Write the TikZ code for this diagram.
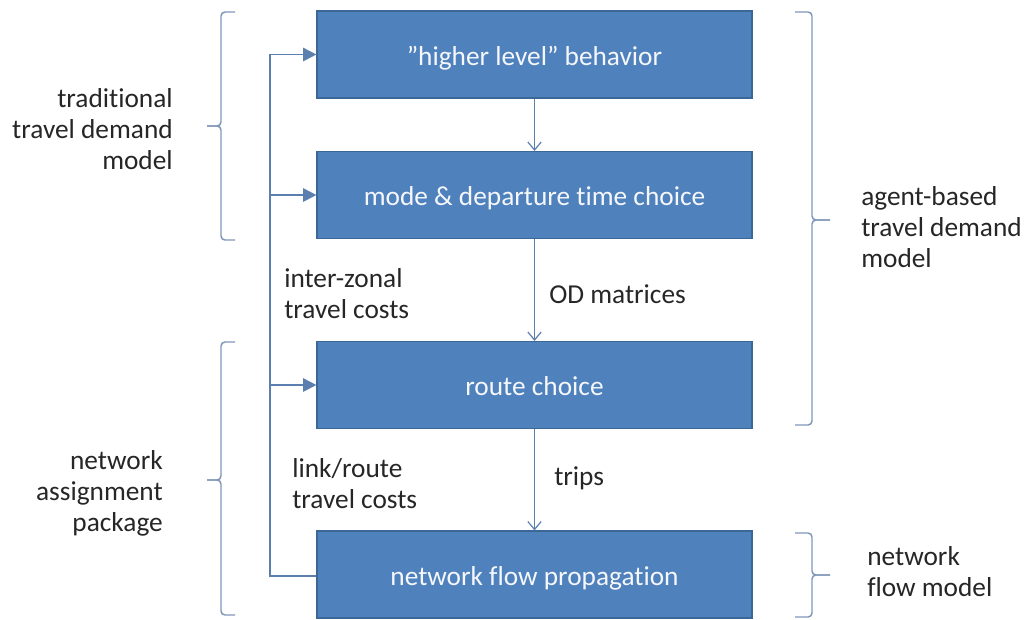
\documentclass[tikz,border=0pt]{standalone}
\usepackage{fontspec}
\setmainfont{Carlito}[Ligatures=NoCommon]
\usetikzlibrary{arrows.meta}
\definecolor{boxblue}{HTML}{4F81BD}
\definecolor{boxedge}{HTML}{3B6797}
\definecolor{linkblue}{HTML}{5B7FAE}
\definecolor{bracegray}{HTML}{7F96B8}
\tikzset{
    stage/.style={draw=boxedge, line width=1.1pt, fill=boxblue, text=white!94!boxblue,
        minimum width=326pt, minimum height=65pt, inner sep=0pt,
        text height=20pt, text depth=4pt},
    flow/.style={draw=linkblue, line width=0.9pt, -{Straight Barb[length=6pt,width=10pt]}},
    feed/.style={draw=linkblue, line width=1.3pt, -{Triangle[length=10pt,width=10pt]}},
    bracket/.style={draw=bracegray, line width=1.1pt, rounded corners=3pt},
    lbl/.style={inner sep=0pt, text=black!85}
}
\begin{document}
\begin{tikzpicture}[x=0.75pt, y=-0.75pt, font=\fontsize{20.5}{23.3}\selectfont]
    \useasboundingbox (0,0) rectangle (1027,619);
    % stages
    \node[stage] (s1) at (534.5,54.5) {”higher level” behavior};
    \node[stage] (s2) at (534.5,195) {mode \& departure time choice};
    \node[stage] (s3) at (534.5,385) {route choice};
    \node[stage] (s4) at (534.5,574.5) {network flow propagation};
    \draw[flow] (s1) -- (s2);
    \draw[flow] (s2) -- (s3);
    \draw[flow] (s3) -- (s4);
    % feedback
    \coordinate (back) at (270,576);
    \draw[feed] (s4.west |- back) -- (back) |- (s1.west);
    \foreach \s in {s2,s3} {
        \draw[feed] (back |- \s.west) -- (\s.west);
    }
    \node[lbl, anchor=west, align=left] (izc) at (284,294) {inter-zonal\\travel costs};
    \node[lbl, anchor=west, align=left] (lrc) at (292,484) {link/route\\travel costs};
    \node[lbl, anchor=west] (od) at (549,294) {OD matrices};
    \node[lbl, anchor=west] (trips) at (554,478) {trips};
    % braces
    \foreach \t/\m/\b in {12/126/240, 342/480/615} {
        \draw[bracket] (235,\t) -- (221,\t) -- (221,\m) -- (207,\m);
        \draw[bracket] (235,\b) -- (221,\b) -- (221,\m) -- (207,\m);
    }
    \foreach \t/\m/\b in {12/220/425, 533/575/617} {
        \draw[bracket] (795,\t) -- (812,\t) -- (812,\m) -- (830,\m);
        \draw[bracket] (795,\b) -- (812,\b) -- (812,\m) -- (830,\m);
    }
    \node[lbl, anchor=east, align=right] (trad) at (173,129) {traditional\\travel demand\\model};
    \node[lbl, anchor=east, align=right] (nap) at (163,493) {network\\assignment\\package};
    \node[lbl, anchor=west, align=left] (abm) at (861,227) {agent-based\\travel demand\\model};
    \node[lbl, anchor=west, align=left] (nfm) at (867,572) {network\\flow model};
\end{tikzpicture}
\end{document}
